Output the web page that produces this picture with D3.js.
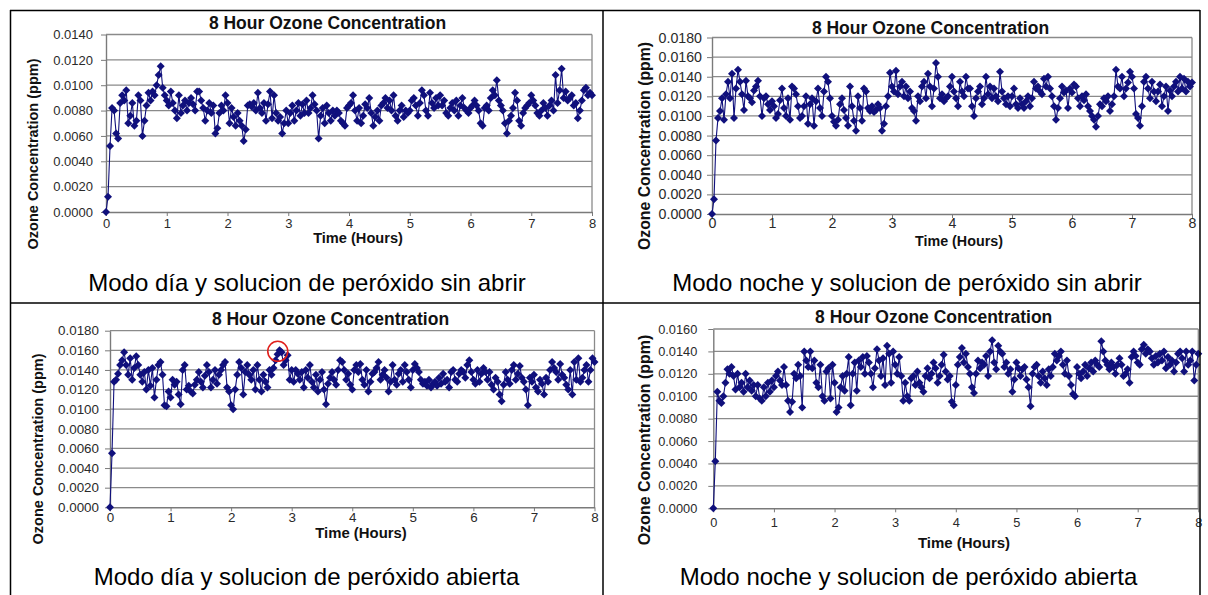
<!DOCTYPE html>
<html><head><meta charset="utf-8">
<script src="https://cdn.jsdelivr.net/npm/d3@7"></script>
<style>
html,body{margin:0;padding:0;background:#fff;}
svg{display:block;}
text{font-family:"Liberation Sans",Arial,Helvetica,sans-serif;}
</style></head><body>
<svg id="chart" width="1208" height="595"></svg>
<script>
// ---------- DATA ----------
const chartTitle = "8 Hour Ozone Concentration";
const xAxisTitle = "Time (Hours)";
const yAxisTitle = "Ozone Concentration (ppm)";
const captions = [
  "Modo día y solucion de peróxido sin abrir",
  "Modo noche y solucion de peróxido sin abrir",
  "Modo día y solucion de peróxido abierta",
  "Modo noche y solucion de peróxido abierta"
];
const xTicks = [0,1,2,3,4,5,6,7,8];
const yTicks14 = [0,0.002,0.004,0.006,0.008,0.010,0.012,0.014];
const yTicks16 = [0,0.002,0.004,0.006,0.008,0.010,0.012,0.014,0.016];
const yTicks18 = [0,0.002,0.004,0.006,0.008,0.010,0.012,0.014,0.016,0.018];
// one reading every 2 minutes, 0 to 8 hours
const sampleIndex = d3.range(241);
const hours = sampleIndex.map(i => i * 2 / 60);

// Modo día, peróxido sin abrir (ppm)
const dayClosed = [
0,.0012,.0052,.0082,.0080,.0062,.0058,.0086,.0092,.0088,.0096,.0070,.0076,.0086,.0068,.0072,.0092,.0088,.0060,.0072,.0084,.0094,.0088,.0095,.0092,.0100,.0108,.0115,.0098,.0092,
.0088,.0084,.0095,.0086,.0080,.0074,.0092,.0078,.0084,.0088,.0080,.0086,.0090,.0085,.0080,.0095,.0095,.0088,.0082,.0072,.0080,.0086,.0078,.0084,.0062,.0066,.0078,.0084,.0080,.0092,
.0086,.0070,.0082,.0075,.0068,.0078,.0072,.0068,.0056,.0065,.0084,.0085,.0083,.0086,.0080,.0094,.0082,.0078,.0086,.0072,.0085,.0095,.0074,.0092,.0078,.0072,.0075,.0062,.0070,.0080,
.0070,.0078,.0084,.0072,.0080,.0086,.0076,.0085,.0078,.0088,.0078,.0082,.0092,.0085,.0080,.0058,.0076,.0082,.0070,.0084,.0078,.0072,.0080,.0076,.0080,.0078,.0072,.0070,.0068,.0082,
.0084,.0086,.0092,.0080,.0072,.0082,.0070,.0076,.0085,.0082,.0090,.0078,.0068,.0075,.0080,.0072,.0084,.0086,.0090,.0082,.0088,.0080,.0092,.0076,.0072,.0080,.0084,.0075,.0080,.0078,
.0080,.0088,.0090,.0084,.0076,.0086,.0096,.0092,.0080,.0076,.0094,.0086,.0082,.0090,.0084,.0092,.0084,.0088,.0078,.0076,.0082,.0086,.0080,.0088,.0076,.0084,.0090,.0082,.0080,.0078,
.0082,.0084,.0088,.0084,.0080,.0070,.0068,.0082,.0084,.0080,.0090,.0096,.0092,.0104,.0088,.0084,.0080,.0070,.0062,.0072,.0076,.0082,.0094,.0088,.0072,.0068,.0078,.0082,.0084,.0086,
.0092,.0088,.0084,.0078,.0076,.0080,.0086,.0082,.0076,.0084,.0088,.0080,.0108,.0086,.0096,.0113,.0090,.0095,.0088,.0090,.0092,.0084,.0086,.0074,.0080,.0088,.0096,.0098,.0092,.0094,
.0092];

// Modo noche, peróxido sin abrir (ppm)
const nightClosed = [
0,.0015,.0075,.0098,.0105,.0118,.0096,.0122,.0135,.0118,.0143,.0098,.0128,.0147,.0135,.0122,.0106,.0136,.0120,.0118,.0114,.0126,.0130,.0136,.0120,.0100,.0118,.0120,.0112,.0106,
.0115,.0110,.0098,.0102,.0116,.0128,.0108,.0100,.0118,.0096,.0130,.0128,.0122,.0110,.0098,.0100,.0110,.0120,.0092,.0112,.0118,.0090,.0115,.0128,.0108,.0100,.0125,.0140,.0135,.0118,
.0100,.0094,.0090,.0096,.0112,.0118,.0106,.0098,.0090,.0130,.0110,.0095,.0085,.0120,.0108,.0095,.0128,.0125,.0108,.0105,.0110,.0104,.0106,.0112,.0108,.0085,.0092,.0110,.0120,.0144,
.0130,.0125,.0146,.0122,.0130,.0135,.0120,.0130,.0118,.0125,.0108,.0105,.0095,.0120,.0115,.0130,.0135,.0118,.0143,.0130,.0110,.0128,.0154,.0140,.0118,.0122,.0115,.0118,.0120,.0130,
.0140,.0125,.0118,.0110,.0135,.0125,.0120,.0140,.0128,.0128,.0110,.0100,.0118,.0125,.0130,.0112,.0118,.0140,.0122,.0130,.0118,.0128,.0120,.0115,.0145,.0125,.0118,.0112,.0120,.0110,
.0120,.0128,.0112,.0108,.0118,.0112,.0108,.0115,.0120,.0110,.0118,.0135,.0128,.0130,.0125,.0122,.0138,.0130,.0140,.0128,.0120,.0110,.0096,.0108,.0118,.0130,.0124,.0126,.0108,.0128,
.0124,.0132,.0130,.0118,.0110,.0120,.0116,.0122,.0110,.0105,.0100,.0096,.0089,.0100,.0112,.0110,.0118,.0115,.0120,.0105,.0112,.0120,.0147,.0130,.0128,.0140,.0120,.0128,.0134,.0145,
.0140,.0128,.0102,.0098,.0090,.0110,.0135,.0140,.0128,.0118,.0135,.0125,.0115,.0125,.0132,.0110,.0120,.0130,.0105,.0126,.0120,.0130,.0135,.0125,.0140,.0128,.0138,.0125,.0135,.0130,
.0134];

// Modo día, peróxido abierta (ppm)
const dayOpen = [
0,.0055,.0128,.0130,.0136,.0145,.0150,.0158,.0145,.0135,.0152,.0130,.0142,.0154,.0145,.0135,.0128,.0138,.0120,.0140,.0124,.0142,.0112,.0130,.0145,.0148,.0135,.0104,.0103,.0118,
.0112,.0130,.0125,.0128,.0115,.0105,.0140,.0145,.0120,.0124,.0118,.0116,.0125,.0130,.0138,.0128,.0122,.0134,.0145,.0138,.0122,.0130,.0140,.0126,.0135,.0140,.0145,.0148,.0122,.0118,
.0104,.0100,.0120,.0135,.0148,.0142,.0115,.0138,.0145,.0135,.0130,.0140,.0120,.0145,.0130,.0118,.0135,.0128,.0122,.0140,.0135,.0142,.0150,.0156,.0160,.0158,.0145,.0150,.0155,.0130,
.0140,.0128,.0140,.0136,.0130,.0138,.0122,.0140,.0132,.0145,.0128,.0122,.0135,.0118,.0130,.0138,.0120,.0105,.0126,.0132,.0138,.0130,.0125,.0140,.0150,.0148,.0140,.0130,.0136,.0125,
.0120,.0140,.0145,.0138,.0146,.0130,.0125,.0140,.0118,.0128,.0136,.0138,.0142,.0148,.0130,.0135,.0140,.0132,.0118,.0128,.0145,.0130,.0125,.0136,.0140,.0128,.0145,.0138,.0130,.0122,
.0140,.0146,.0142,.0138,.0130,.0126,.0128,.0124,.0130,.0122,.0126,.0128,.0124,.0132,.0126,.0136,.0128,.0130,.0122,.0138,.0140,.0130,.0128,.0136,.0140,.0138,.0132,.0145,.0150,.0138,
.0130,.0126,.0140,.0128,.0136,.0142,.0138,.0130,.0138,.0125,.0120,.0132,.0128,.0115,.0108,.0125,.0138,.0130,.0126,.0140,.0145,.0130,.0136,.0144,.0132,.0128,.0120,.0104,.0132,.0128,
.0135,.0122,.0118,.0130,.0126,.0115,.0132,.0128,.0140,.0148,.0142,.0138,.0130,.0146,.0135,.0132,.0125,.0120,.0140,.0115,.0148,.0130,.0152,.0128,.0132,.0140,.0145,.0128,.0140,.0152,
.0148];

// Modo noche, peróxido abierta (ppm)
const nightOpen = [
0,.0042,.0104,.0096,.0094,.0100,.0112,.0124,.0120,.0126,.0118,.0106,.0120,.0108,.0112,.0104,.0120,.0108,.0114,.0105,.0110,.0100,.0110,.0098,.0096,.0108,.0100,.0112,.0104,.0114,
.0108,.0118,.0122,.0114,.0110,.0126,.0110,.0096,.0086,.0095,.0120,.0116,.0128,.0118,.0090,.0140,.0132,.0126,.0140,.0125,.0132,.0112,.0108,.0128,.0100,.0096,.0122,.0125,.0098,.0128,
.0112,.0086,.0090,.0108,.0118,.0105,.0120,.0135,.0092,.0120,.0130,.0105,.0132,.0126,.0135,.0120,.0136,.0130,.0120,.0108,.0125,.0142,.0132,.0118,.0134,.0110,.0145,.0138,.0112,.0140,
.0128,.0120,.0135,.0118,.0096,.0112,.0100,.0096,.0116,.0118,.0110,.0122,.0112,.0108,.0104,.0118,.0125,.0116,.0120,.0130,.0125,.0112,.0118,.0128,.0137,.0122,.0115,.0118,.0095,.0092,
.0110,.0128,.0135,.0143,.0130,.0138,.0126,.0120,.0108,.0103,.0120,.0132,.0125,.0130,.0128,.0136,.0118,.0140,.0150,.0130,.0124,.0145,.0140,.0138,.0126,.0130,.0120,.0124,.0104,.0115,
.0130,.0125,.0118,.0124,.0126,.0115,.0108,.0091,.0120,.0126,.0128,.0118,.0112,.0122,.0116,.0110,.0124,.0118,.0126,.0138,.0132,.0136,.0140,.0128,.0120,.0132,.0118,.0110,.0102,.0100,
.0126,.0120,.0116,.0122,.0128,.0118,.0125,.0130,.0122,.0132,.0128,.0126,.0149,.0140,.0132,.0128,.0124,.0130,.0126,.0120,.0128,.0134,.0128,.0118,.0120,.0124,.0112,.0135,.0140,.0136,
.0130,.0128,.0142,.0146,.0138,.0142,.0140,.0134,.0128,.0136,.0130,.0138,.0132,.0140,.0125,.0135,.0128,.0132,.0122,.0130,.0138,.0140,.0134,.0122,.0140,.0128,.0132,.0140,.0114,.0128,
.0138];

// red highlight in the "día / abierta" chart
const highlight = {hour: 2.77, ppm: 0.0159};

// ---------- LAYOUT ----------
const panels = [
  {values: dayClosed, yTicks: yTicks14, l:106, r:592, t:34.5, b:212,
   titleX:327.5, titleY:29, yTitleX:38, yTitleY:154, yTitleFont:14.5, tickFont:13, tickGap:13,
   xTickY:228, xTitleX:358, xTitleY:243, xTitleFont:14.6, capX:307, capY:291, caption:captions[0]},
  {values: nightClosed, yTicks: yTicks18, l:712, r:1192, t:37.5, b:214,
   titleX:930.5, titleY:34, yTitleX:650, yTitleY:146, yTitleFont:15.8, tickFont:14.2, tickGap:10,
   xTickY:228, xTitleX:959, xTitleY:246, xTitleFont:14.3, capX:907, capY:291, caption:captions[1]},
  {values: dayOpen, yTicks: yTicks18, l:110, r:594.5, t:330.7, b:507.3,
   titleX:330.5, titleY:325, yTitleX:43, yTitleY:449, yTitleFont:14.5, tickFont:13.4, tickGap:11,
   xTickY:522, xTitleX:361, xTitleY:538, xTitleFont:14.9, capX:306.5, capY:585, caption:captions[2], mark:highlight},
  {values: nightOpen, yTicks: yTicks16, l:713.3, r:1198.3, t:329, b:508.3,
   titleX:933.7, titleY:323, yTitleX:650, yTitleY:440, yTitleFont:16, tickFont:12.8, tickGap:16,
   xTickY:527, xTitleX:964, xTitleY:548, xTitleFont:15, capX:908.5, capY:585, caption:captions[3]}
];

const svg = d3.select('#chart');
svg.append('rect').attr('width',1208).attr('height',595).attr('fill','#fff');

const seriesColor = '#10107c';
const gridColor = '#8a8a8a';
const fmt = d3.format('.4f');
const diamond = 'M0,-4L4,0L0,4L-4,0Z';

panels.forEach(p => {
  const x = d3.scaleLinear().domain([0, 8]).range([p.l, p.r]);
  const y = d3.scaleLinear().domain([0, d3.max(p.yTicks)]).range([p.b, p.t]);
  const g = svg.append('g');

  // gridlines
  g.selectAll('line.grid').data(p.yTicks.filter(v => v > 0)).join('line')
    .attr('class','grid')
    .attr('x1', p.l).attr('x2', p.r)
    .attr('y1', d => y(d)).attr('y2', d => y(d))
    .attr('stroke', gridColor).attr('stroke-width', 1.3);
  // plot area right border
  g.append('line').attr('x1', p.r).attr('x2', p.r).attr('y1', y(d3.max(p.yTicks))).attr('y2', p.b)
    .attr('stroke', gridColor).attr('stroke-width', 1.3);

  // x axis
  const xa = g.append('g').attr('transform', `translate(0,${p.b})`)
    .call(d3.axisBottom(x).tickValues(xTicks).tickFormat(d3.format('d'))
      .tickSize(4).tickSizeOuter(0)
      .tickPadding(p.xTickY - p.b - 4 - 0.71 * p.tickFont));
  xa.select('.domain').attr('stroke', '#7a7a7a').attr('stroke-width', 1.4);
  xa.selectAll('.tick line').attr('stroke', '#7a7a7a');
  xa.selectAll('.tick text').attr('font-size', p.tickFont).attr('fill', '#2a2a2a')
    .attr('font-family', '"Liberation Sans",Arial,sans-serif');

  // y axis
  const ya = g.append('g').attr('transform', `translate(${p.l},0)`)
    .call(d3.axisLeft(y).tickValues(p.yTicks).tickFormat(fmt)
      .tickSize(5).tickSizeOuter(0).tickPadding(p.tickGap - 5));
  ya.select('.domain').attr('stroke', '#7a7a7a').attr('stroke-width', 1.4);
  ya.selectAll('.tick line').attr('stroke', '#7a7a7a');
  ya.selectAll('.tick text').attr('font-size', p.tickFont).attr('fill', '#2a2a2a')
    .attr('font-family', '"Liberation Sans",Arial,sans-serif');

  // series line
  const line = d3.line().x((d, i) => x(hours[i])).y(d => y(d));
  g.append('path').datum(p.values).attr('d', line)
    .attr('fill', 'none').attr('stroke', seriesColor).attr('stroke-width', 1.1);
  // markers
  g.selectAll('path.pt').data(p.values).join('path')
    .attr('class', 'pt').attr('d', diamond)
    .attr('transform', (d, i) => `translate(${x(hours[i])},${y(d)})`)
    .attr('fill', seriesColor);

  if (p.mark) {
    g.append('circle').attr('cx', x(p.mark.hour)).attr('cy', y(p.mark.ppm)).attr('r', 10)
      .attr('fill', 'none').attr('stroke', '#e0201c').attr('stroke-width', 1.6);
  }

  // texts
  g.append('text').attr('x', p.titleX).attr('y', p.titleY).attr('text-anchor', 'middle')
    .attr('font-size', 17.5).attr('font-weight', 'bold').attr('fill', '#111').text(chartTitle);
  g.append('text').attr('x', p.xTitleX).attr('y', p.xTitleY).attr('text-anchor', 'middle')
    .attr('font-size', p.xTitleFont).attr('font-weight', 'bold').attr('fill', '#111').text(xAxisTitle);
  g.append('text').attr('transform', `translate(${p.yTitleX},${p.yTitleY}) rotate(-90)`)
    .attr('text-anchor', 'middle').attr('font-size', p.yTitleFont).attr('font-weight', 'bold')
    .attr('fill', '#111').text(yAxisTitle);
  g.append('text').attr('x', p.capX).attr('y', p.capY).attr('text-anchor', 'middle')
    .attr('font-size', 24).attr('fill', '#000').text(p.caption);
});

// table borders
const borders = [
  [10, 10.5, 1200, 10.5],
  [10, 303, 1200, 303],
  [10.5, 10, 10.5, 595],
  [603, 10, 603, 595],
  [1200, 10, 1200, 595]
];
svg.selectAll('line.border').data(borders).join('line').attr('class','border')
  .attr('x1', d => d[0]).attr('y1', d => d[1]).attr('x2', d => d[2]).attr('y2', d => d[3])
  .attr('stroke', '#000').attr('stroke-width', 1.5);
</script>
</body></html>
